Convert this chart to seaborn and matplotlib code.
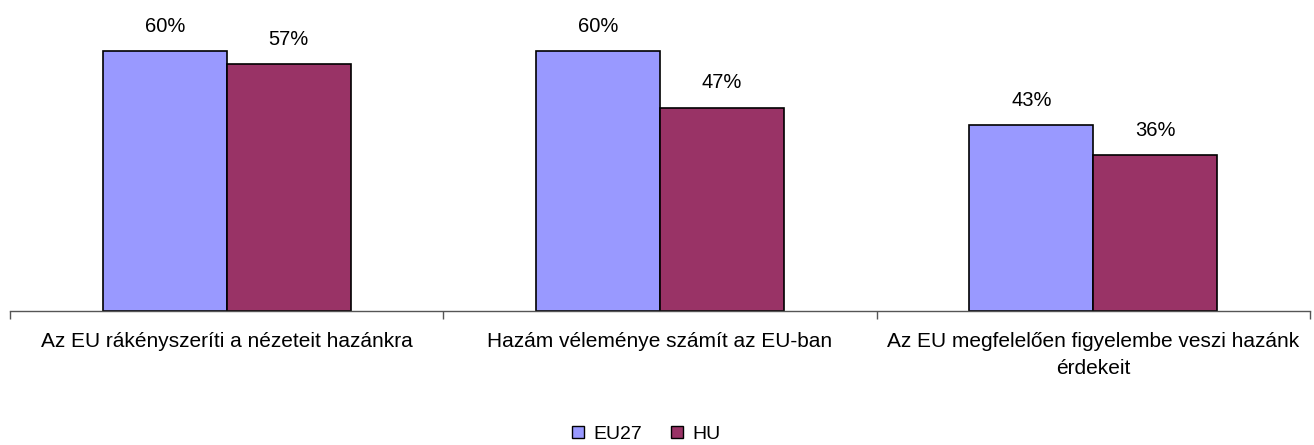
import matplotlib
matplotlib.use("Agg")
import matplotlib.pyplot as plt
import seaborn as sns
import pandas as pd
import numpy as np
from matplotlib.patches import Patch

categories = ["Az EU rákényszeríti a nézeteit hazánkra",
              "Hazám véleménye számít az EU-ban",
              "Az EU megfelelően figyelembe veszi hazánk\nérdekeit"]
series = ["EU27", "HU"]
eu27 = [60, 60, 43]
hu = [57, 47, 36]
colors = ["#9999FF", "#993366"]

df = pd.DataFrame({
    "cat": categories * 2,
    "series": [series[0]] * 3 + [series[1]] * 3,
    "val": eu27 + hu,
})

sns.set_theme(style="white")
plt.rcParams['font.family'] = ['Liberation Sans', 'DejaVu Sans']

fig = plt.figure(figsize=(13.14, 4.45), dpi=100)
ax = fig.add_axes([0.0076, 0.301, 0.9894, 0.681])
sns.barplot(data=df, x="cat", y="val", hue="series", palette=colors,
            width=0.572, edgecolor="black", linewidth=1.2, saturation=1,
            ax=ax, legend=False)

for cont in ax.containers:
    for bar in cont:
        h = bar.get_height()
        ax.annotate(f"{h:.0f}%", (bar.get_x() + bar.get_width() / 2, h),
                    xytext=(0, 11), textcoords="offset points",
                    ha="center", va="bottom", fontsize=14.5, color="black")

ax.set_xlim(-0.5, 2.5)
ax.set_ylim(0, 70)
ax.set_xlabel("")
ax.set_ylabel("")
ax.set_yticks([])
for s in ["left", "top", "right"]:
    ax.spines[s].set_visible(False)
ax.spines["bottom"].set_color("#555555")
ax.spines["bottom"].set_linewidth(1)
ax.set_xticks([0, 1, 2])
ax.set_xticklabels(categories, fontsize=15, linespacing=1.55, color="black")
ax.set_xticks([-0.5, 0.5, 1.5, 2.5], minor=True)
ax.tick_params(axis="x", which="major", length=0, pad=15)
ax.tick_params(axis="x", which="minor", length=6, width=1, color="#555555", direction="out", bottom=True)

handles = [Patch(facecolor=c, edgecolor="black", linewidth=1) for c in colors]
fig.legend(handles, series, loc="lower center", bbox_to_anchor=(0.492, -0.035), ncol=2,
           frameon=False, fontsize=14, handlelength=0.6, handleheight=0.6,
           handletextpad=0.5, columnspacing=1.5, labelcolor="black")

fig.savefig("out.png", dpi=100)
